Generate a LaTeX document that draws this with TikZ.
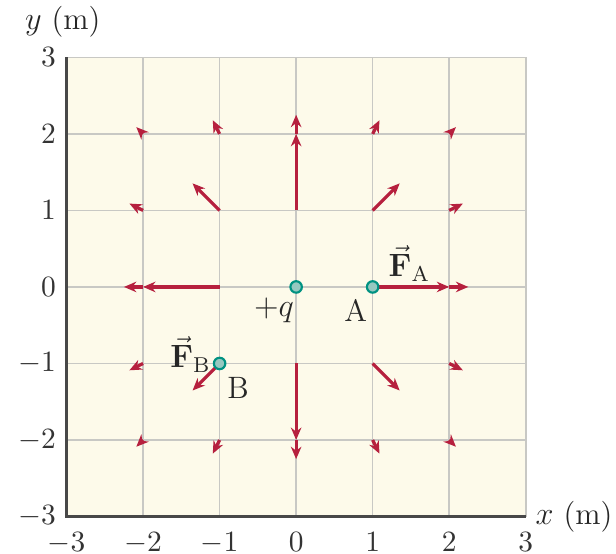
\documentclass[tikz,border=0pt]{standalone}
\usepackage{amsmath}
\usepackage{xcolor}
\usepackage{tikz}
\usetikzlibrary{arrows.meta,positioning,calc}
\definecolor{fieldred}{RGB}{182,32,62}
\definecolor{chargeT}{RGB}{0,146,130}
\definecolor{chargeF}{RGB}{150,200,192}
\definecolor{paperC}{RGB}{253,250,234}
\definecolor{grilleC}{RGB}{200,200,196}
\definecolor{axeC}{RGB}{72,72,72}
\tikzset{
  gridline/.style={draw=grilleC, line width=0.6pt},
  axisline/.style={draw=axeC, line width=1pt},
  fieldarr/.style={-{Stealth[length=4.6pt,width=3.9pt]}, line width=1.2pt, draw=fieldred},
  charge/.style={circle, draw=chargeT, fill=chargeF, line width=0.8pt, inner sep=0pt, minimum size=0.15cm},
  ticklab/.style={font=\fontsize{10.5}{12}\selectfont, text=black!80, inner sep=1.5pt},
  lab/.style={font=\fontsize{11.5}{13}\selectfont, text=black!85, inner sep=1.5pt},
}

\begin{document}
\begin{tikzpicture}[x=1cm, y=1cm]
\useasboundingbox (-3.87,-3.48) rectangle (4.18,3.75);
% plot area
\fill[paperC] (-3,-3) rectangle (3,3);
\foreach \k in {-2,...,2} {
  \draw[gridline] (\k,-3) -- (\k,3);
  \draw[gridline] (-3,\k) -- (3,\k);
}
\draw[gridline] (-3,3) -- (3,3) -- (3,-3);
\draw[axisline] (-3,3) -- (-3,-3) -- (3,-3);
% tick labels
\foreach \k in {-3,...,3} {
  \node[ticklab, anchor=north] (xt\k) at (\k,-3.15) {$\k$};
  \node[ticklab, anchor=east] (yt\k) at (-3.08,\k) {$\k$};
}
\node[lab, anchor=west] (xlab) at (3.07,-3.0) {$x$ (m)};
\node[lab] (ylab) at (-3.05,3.47) {$y$ (m)};
% field vectors, length 1/r^2
\foreach \i in {-2,...,2} {
  \foreach \j in {-2,...,2} {
    \pgfmathtruncatemacro\rr{\i*\i+\j*\j}
    \ifnum\rr>0
      \pgfmathsetmacro\ff{1/(\rr*sqrt(\rr))}
      \draw[fieldarr] (\i,\j) -- ++({\i*\ff},{\j*\ff});
    \fi
  }
}
% charges and test points
\node[charge] (q) at (0,0) {};
\node[charge] (A) at (1,0) {};
\node[charge] (B) at (-1,-1) {};
\node[lab] (qlab) at (-0.29,-0.31) {$+q$};
\node[lab] (Alab) at (0.78,-0.31) {A};
\node[lab] (Blab) at (-0.76,-1.32) {B};
\node[lab] (FA) at (1.48,0.31) {$\vec{\mathbf{F}}_{\mathrm{A}}$};
\node[lab] (FB) at (-1.38,-0.88) {$\vec{\mathbf{F}}_{\mathrm{B}}$};
\end{tikzpicture}
\end{document}
